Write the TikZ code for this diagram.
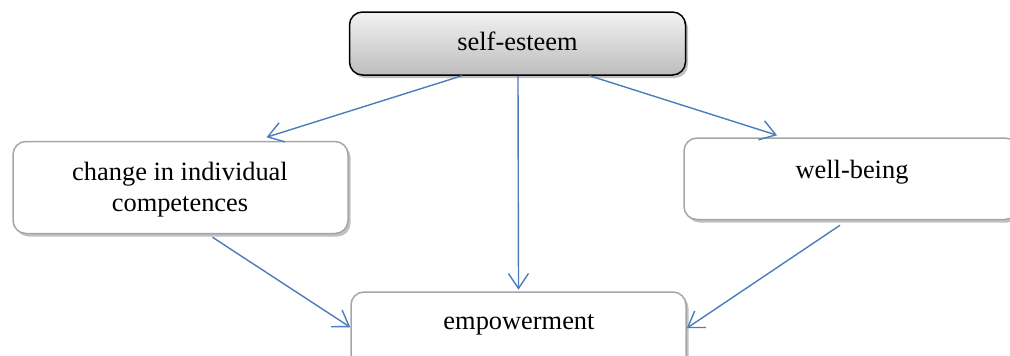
\documentclass[tikz,border=0pt]{standalone}
\usepackage{fontspec}
\setmainfont{Liberation Serif}
\usetikzlibrary{arrows.meta,shadows}
\definecolor{arrowc}{RGB}{74,126,187}
\definecolor{boxline}{RGB}{166,166,166}
\tikzset{
  boxshape/.style={rounded corners=13pt, inner sep=0pt, line width=1.5pt,
    drop shadow={shadow xshift=2.5pt, shadow yshift=-3pt, opacity=0.35, fill=black!70}},
  plainbox/.style={boxshape, draw=boxline, fill=white},
  topbox/.style={boxshape, draw=black, top color=black!5, bottom color=black!26},
  lbl/.style={font=\fontsize{26.4}{31}\selectfont, inner sep=0pt, align=center, anchor=base},
  conn/.style={draw=arrowc, line width=1.4pt, -{Straight Barb[length=15pt,width=20pt,line width=1.4pt]}}
}
\begin{document}
\begin{tikzpicture}[x=1pt,y=-1pt]
\useasboundingbox (0,0) rectangle (1010,356);
\clip (0,0) rectangle (1010,356);
\node[topbox, minimum width=336pt, minimum height=63pt] (se) at (517.5,43.5) {};
\node[plainbox, minimum width=335pt, minimum height=92pt] (lc) at (180.5,187.5) {};
\node[plainbox, minimum width=334pt, minimum height=81.5pt] (wb) at (851,178.75) {};
\node[plainbox, minimum width=335pt, minimum height=93pt] (em) at (518.5,338.5) {};
\node[lbl] (set) at (517.5,50) {self-esteem};
\node[lbl] (lct) at (180,211) {change in individual\\competences};
\node[lbl] (wbt) at (852,178) {well-being};
\node[lbl] (emt) at (519,329) {empowerment};
\draw[conn] ([xshift=-55.5pt]se.south) -- ([xshift=86pt,yshift=3.5pt]lc.north);
\draw[conn] ([xshift=0.5pt]se.south) -- ([yshift=1.5pt]em.north);
\draw[conn] ([xshift=72pt]se.south) -- ([xshift=-74pt,yshift=2pt]wb.north);
\draw[conn] ([xshift=32pt,yshift=-3pt]lc.south) -- ([yshift=-36pt]em.north west);
\draw[conn] ([xshift=-11pt,yshift=-5pt]wb.south) -- ([yshift=-37pt]em.north east);
\end{tikzpicture}
\end{document}
